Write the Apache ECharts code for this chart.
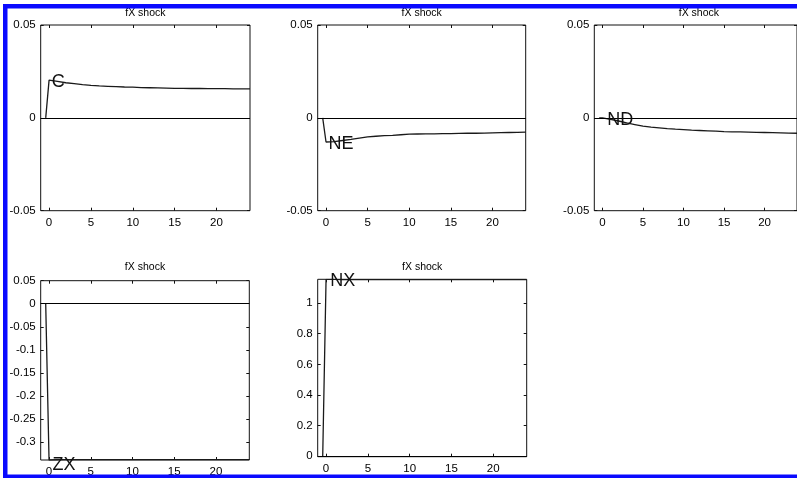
<!DOCTYPE html>
<html><head><meta charset="utf-8">
<script src="https://cdn.jsdelivr.net/npm/echarts@6/dist/echarts.min.js"></script>
<style>html,body{margin:0;padding:0;background:#fff}#c{width:797px;height:478px}</style>
</head><body><div id="c"></div>
<script>
// periods: a pre-shock point, then 0..24
const periods = [-0.4,0,1,2,3,4,5,6,7,8,9,10,11,12,13,14,15,16,17,18,19,20,21,22,23,24];
const xTicks = [0,5,10,15,20];
const valuesC  = [0,0.0203,0.0196,0.0189,0.0184,0.0179,0.0175,0.0172,0.0170,0.0168,0.0166,0.0165,0.0163,0.0162,0.0161,0.0160,0.0159,0.0159,0.0158,0.0158,0.0157,0.0157,0.0157,0.0156,0.0156,0.0156];
const valuesNE = [0,-0.0130,-0.0128,-0.0122,-0.0116,-0.0109,-0.0103,-0.0099,-0.0096,-0.0094,-0.0091,-0.0088,-0.0087,-0.0086,-0.0086,-0.0085,-0.0085,-0.0084,-0.0083,-0.0083,-0.0082,-0.0081,-0.0080,-0.0079,-0.0078,-0.0077];
const valuesND = [0,0,-0.0008,-0.0017,-0.0027,-0.0036,-0.0045,-0.0050,-0.0054,-0.0058,-0.0061,-0.0063,-0.0066,-0.0068,-0.0070,-0.0072,-0.0074,-0.0075,-0.0076,-0.0077,-0.0078,-0.0079,-0.0080,-0.0081,-0.0082,-0.0083];
const valuesZX = [0,-0.3390,-0.3385,-0.3382,-0.3381,-0.3380,-0.3380,-0.3380,-0.3380,-0.3380,-0.3380,-0.3380,-0.3380,-0.3380,-0.3380,-0.3380,-0.3380,-0.3380,-0.3380,-0.3380,-0.3380,-0.3380,-0.3380,-0.3380,-0.3380,-0.3380];
const valuesNX = [0,1.1560,1.1550,1.1545,1.1545,1.1545,1.1545,1.1545,1.1545,1.1545,1.1545,1.1545,1.1545,1.1545,1.1545,1.1545,1.1545,1.1545,1.1545,1.1545,1.1545,1.1545,1.1545,1.1545,1.1545,1.1545];
const yTicksSmall = [-0.05,0,0.05];
const yTicksZX = [-0.3,-0.25,-0.2,-0.15,-0.1,-0.05,0,0.05];
const yTicksNX = [0,0.2,0.4,0.6,0.8,1];
const seriesNames = ['C','NE','ND','ZX','NX'];
const panelTitle = 'fX shock';

const panels = [
  {name:'C',  vals:valuesC,  yMin:-0.05, yMax:0.05, yTicks:yTicksSmall, grid:{left:40.7, top:25, width:209.3, height:185.7}, tag:[1.1,0.0192], titleY:13.5},
  {name:'NE', vals:valuesNE, yMin:-0.05, yMax:0.05, yTicks:yTicksSmall, grid:{left:317.7, top:25, width:208, height:185.7}, tag:[1.8,-0.0140], titleY:13.5},
  {name:'ND', vals:valuesND, yMin:-0.05, yMax:0.05, yTicks:yTicksSmall, grid:{left:594.3, top:25, width:209.2, height:185.7}, tag:[2.2,-0.0012], titleY:13.5},
  {name:'ZX', vals:valuesZX, yMin:-0.339, yMax:0.05, yTicks:yTicksZX, grid:{left:40.7, top:280.7, width:208.6, height:183.3}, tag:[1.8,-0.339], tagOffset:[0,5], titleY:266.7},
  {name:'NX', vals:valuesNX, yMin:-0.004, yMax:1.156, yTicks:yTicksNX, grid:{left:317.7, top:279.3, width:209, height:177.4}, tag:[2.0,1.147], titleY:266.7}
];

const FONT = 'Liberation Sans, Arial, Helvetica, sans-serif';
const fmt = v => String(+(+v).toFixed(4));

const grids = [], xAxes = [], yAxes = [], series = [], graphics = [];
panels.forEach((p, i) => {
  grids.push(Object.assign({show:true, borderColor:'#111', borderWidth:1, backgroundColor:'rgba(0,0,0,0)'}, p.grid));
  ['bottom','top'].forEach(pos => {
    xAxes.push({
      type:'value', gridIndex:i, position:pos, min:-1, max:24,
      axisLine:{show:false, onZero:false},
      axisTick:{show:true, inside:true, length:3, customValues:xTicks, lineStyle:{color:'#111'}},
      axisLabel:{show:pos==='bottom', customValues:xTicks, margin:6, color:'#000', fontSize:11.5, fontFamily:FONT, formatter:fmt},
      splitLine:{show:false}
    });
  });
  ['left','right'].forEach(pos => {
    yAxes.push({
      type:'value', gridIndex:i, position:pos, min:p.yMin, max:p.yMax,
      axisLine:{show:false, onZero:false},
      axisTick:{show:true, inside:true, length:3, customValues:p.yTicks, lineStyle:{color:'#111'}},
      axisLabel:{show:pos==='left', customValues:p.yTicks, margin:5, color:'#000', fontSize:11.5, fontFamily:FONT, formatter:fmt},
      splitLine:{show:false}
    });
  });
  series.push({
    type:'line', name:p.name, xAxisIndex:2*i, yAxisIndex:2*i,
    data: periods.map((x, k) => [x, p.vals[k]]),
    showSymbol:false, symbol:'none', smooth:false, animation:false,
    lineStyle:{color:'#1a1a1a', width:1.3},
    markLine:{silent:true, symbol:'none', animation:false, label:{show:false},
      lineStyle:{color:'#000', width:1.2, type:'solid'}, data:[{yAxis:0}]},
    markPoint:{symbol:'rect', symbolSize:1, itemStyle:{color:'rgba(0,0,0,0)'}, animation:false,
      data:[{coord:p.tag}],
      label:{show:true, position:'inside', offset:p.tagOffset||[0,0], formatter:p.name, fontSize:18, color:'#111', fontFamily:FONT}}
  });
  const g = p.grid;
  graphics.push({type:'text', x:g.left + g.width/2, y:p.titleY, z:50,
    style:{text:panelTitle, fill:'#000', fontSize:10.5, fontFamily:FONT, align:'center', verticalAlign:'middle', textAlign:'center', textVerticalAlign:'middle'}});
});

// blue scan frame
const BLUE = '#0a0aff';
graphics.push({type:'rect', z:100, shape:{x:3, y:4, width:4.5, height:474}, style:{fill:BLUE}});
graphics.push({type:'rect', z:100, shape:{x:3, y:4, width:794, height:4.5}, style:{fill:BLUE}});
graphics.push({type:'rect', z:100, shape:{x:3, y:474.5, width:794, height:3.5}, style:{fill:BLUE}});

const chart = echarts.init(document.getElementById('c'), null, {renderer:'canvas'});
chart.setOption({
  animation:false,
  backgroundColor:'#fff',
  grid:grids, xAxis:xAxes, yAxis:yAxes, series:series, graphic:graphics
});
</script></body></html>
